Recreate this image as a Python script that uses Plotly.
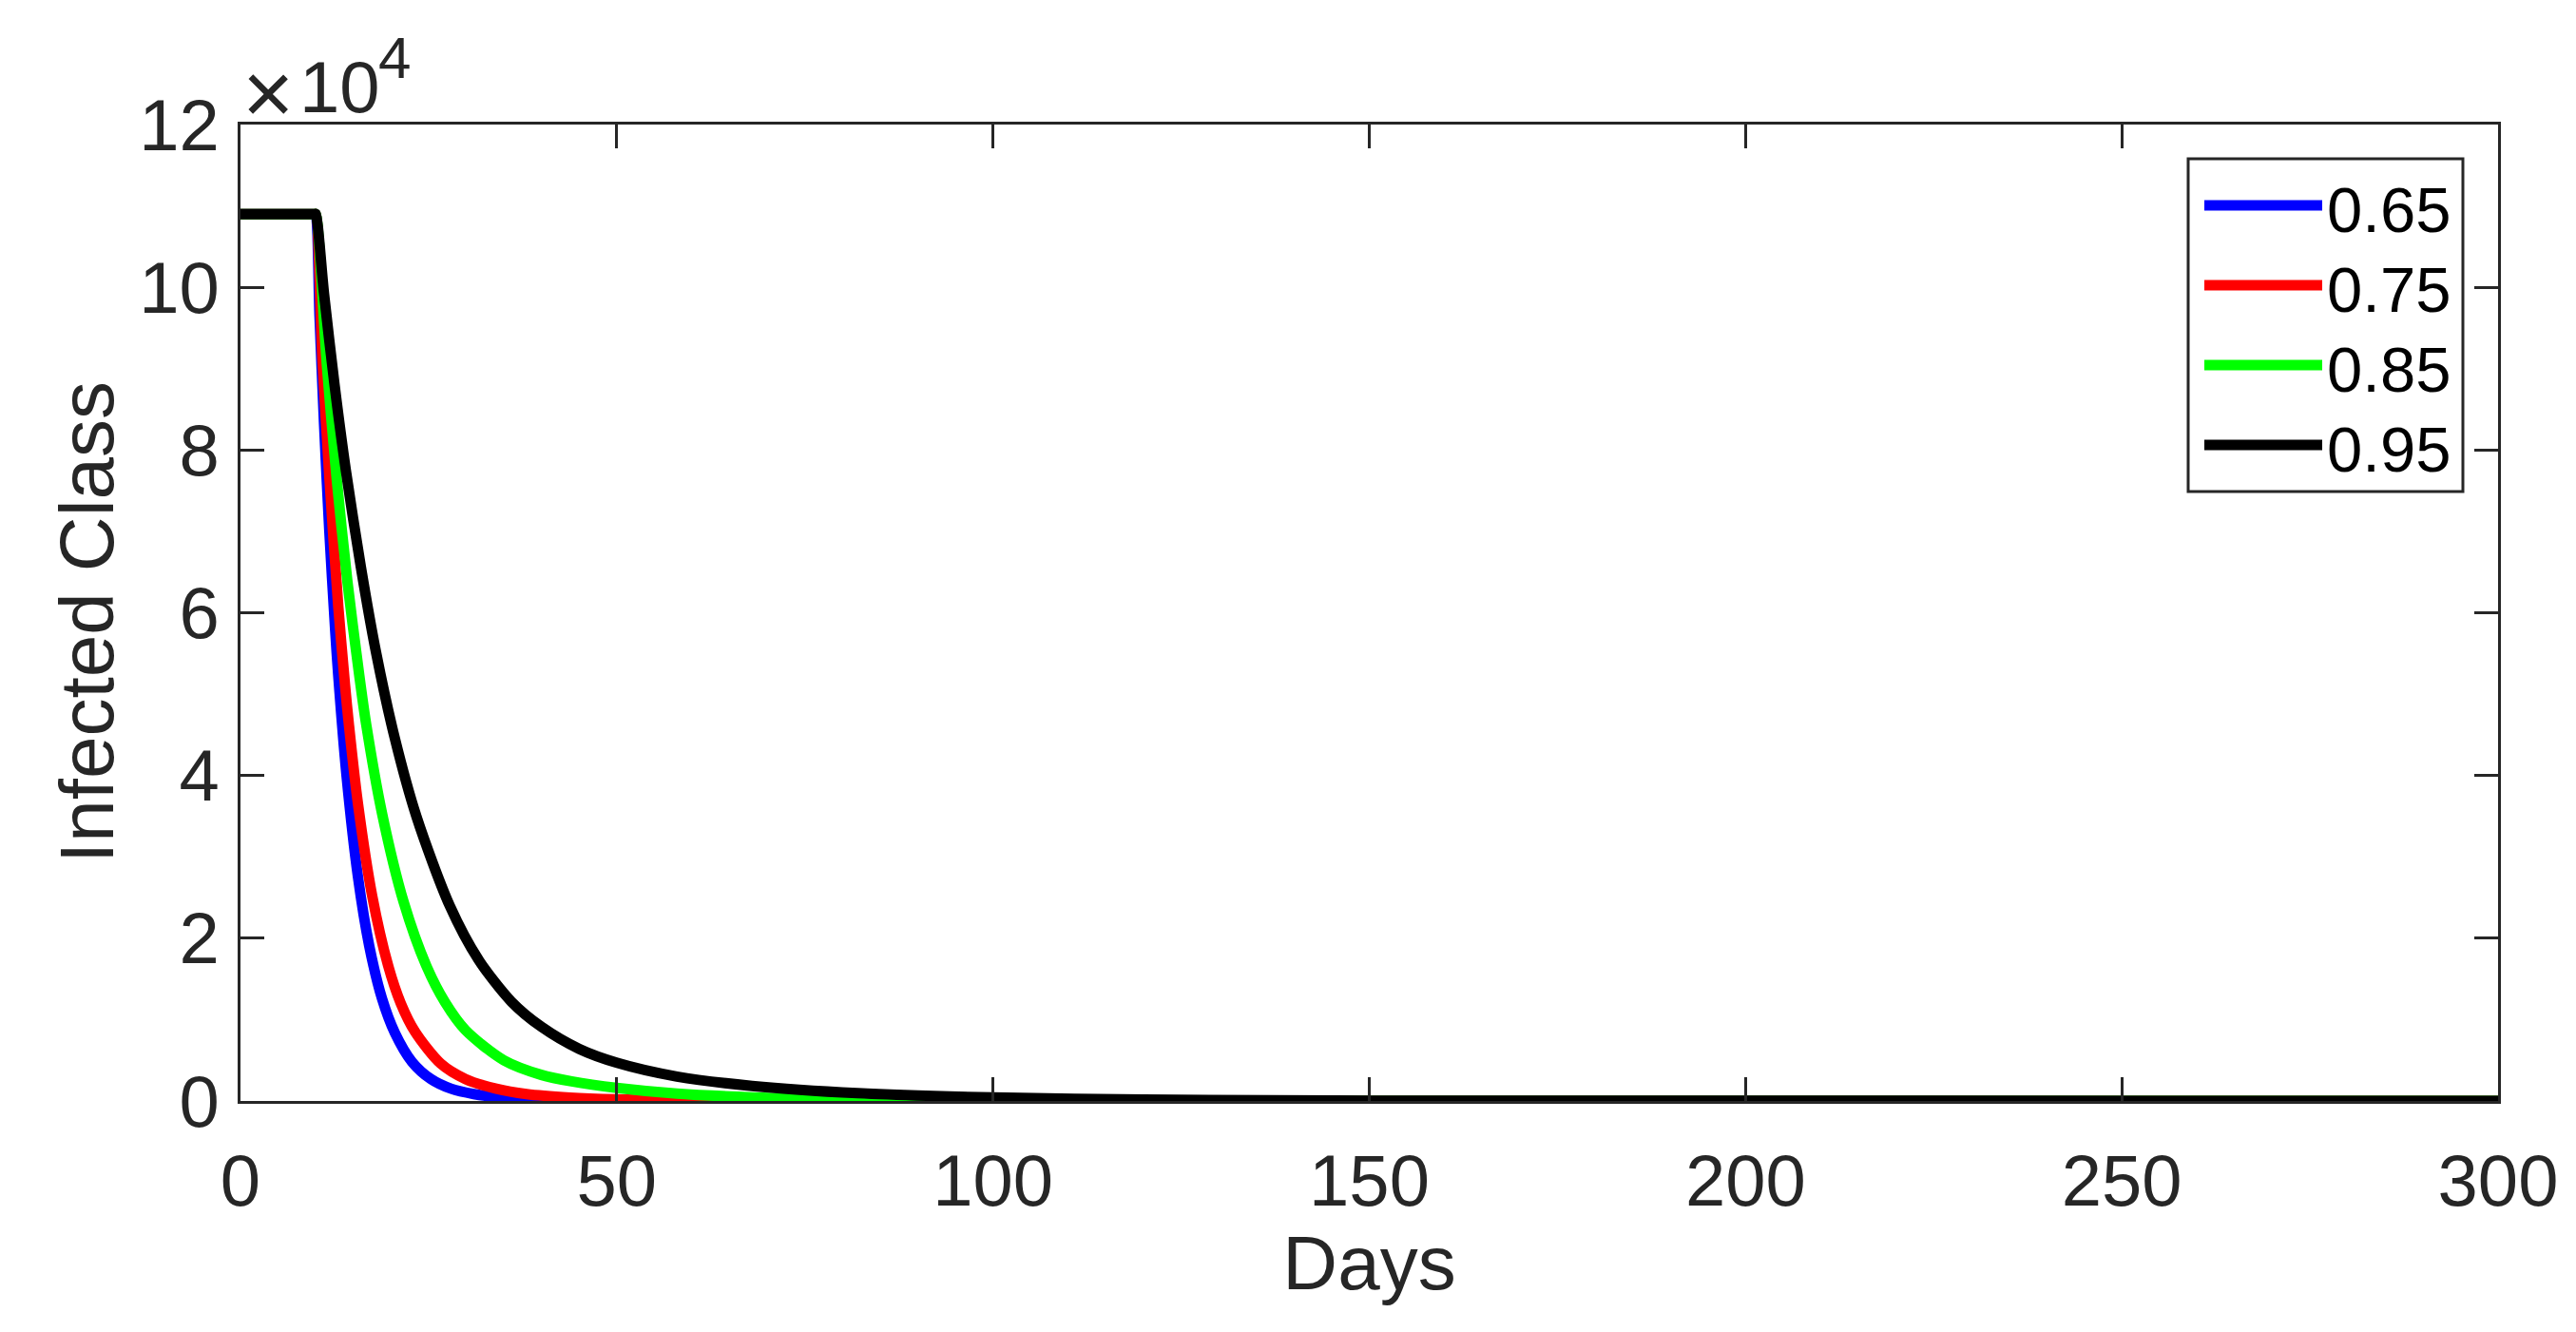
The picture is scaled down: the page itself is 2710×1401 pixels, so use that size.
import plotly.graph_objects as go

# values (days, infected class)
labels = ["0.65", "0.75", "0.85", "0.95"]
colors = ["#0000ff", "#ff0000", "#00ff00", "#000000"]

days_065 = [0, 9.9, 10, 10.5, 11.1, 11.8, 12.6, 13.0, 14.1, 15.6, 17.1, 18.8, 20.5, 22.8, 25.3, 28, 31, 35, 40, 45, 50, 60, 300]
inf_065 = [109000, 109000, 109000, 96500, 83300, 70100, 57600, 52200, 39900, 27600, 19100, 12600, 8400, 4800, 2700, 1500, 850, 400, 150, 60, 20, 0, 0]

days_075 = [0, 9.9, 10, 10.9, 11.8, 13.0, 13.9, 14.4, 15.6, 17.5, 19.6, 21.3, 23.2, 26.6, 29.9, 34, 38, 43.8, 50, 58, 70, 90, 300]
inf_075 = [109000, 109000, 109000, 91000, 76800, 60700, 51000, 46300, 36600, 25200, 16700, 12000, 8500, 4600, 2700, 1500, 850, 420, 200, 80, 20, 0, 0]

days_085 = [0, 9.9, 10, 11.5, 12.8, 14.2, 15.8, 16.7, 18.8, 21.7, 24.7, 27.2, 29.9, 35.0, 40, 44, 50, 58, 68, 82, 100, 115, 300]
inf_085 = [109000, 109000, 109000, 90200, 76300, 63900, 52200, 46300, 35400, 24400, 16600, 12100, 8700, 5000, 3200, 2400, 1600, 900, 450, 160, 40, 0, 0]

days_095 = [0, 9.9, 10, 11.1, 12.5, 14.0, 16.0, 18.0, 20.5, 23.4, 27.8, 31.6, 36, 40, 45, 50, 58, 68, 82, 100, 120, 150, 300]
inf_095 = [109000, 109000, 109000, 99200, 88000, 77500, 65600, 55200, 44600, 34900, 24000, 17400, 12200, 9100, 6400, 4700, 3000, 1850, 960, 430, 170, 40, 0]

x_ticks = [0, 50, 100, 150, 200, 250, 300]
y_ticks = [0, 20000, 40000, 60000, 80000, 100000, 120000]
y_ticktext = ["0", "2", "4", "6", "8", "10", "12"]

series_days = [days_065, days_075, days_085, days_095]
series_inf = [inf_065, inf_075, inf_085, inf_095]

fig = go.Figure()
for i in range(len(labels)):
    fig.add_trace(go.Scatter(x=series_days[i], y=series_inf[i], mode="lines", name=labels[i],
                             line=dict(color=colors[i], width=11, shape="spline", smoothing=0.8),
                             showlegend=False))

axis_col = "#262626"
fam = "Liberation Sans, Arial, sans-serif"
tick_font = dict(family=fam, size=76, color=axis_col)
title_font = dict(family=fam, size=80, color=axis_col)

# the page body adds an 8px offset, so the figure is a bit smaller than the window
fig.update_layout(
    width=2700, height=1390,
    margin=dict(l=245, r=80, t=123, b=240),
    paper_bgcolor="white", plot_bgcolor="white",
    xaxis=dict(range=[0, 300], tickvals=x_ticks, ticks="inside", ticklen=25, tickwidth=3,
               tickcolor=axis_col, showline=True, linewidth=3, linecolor=axis_col,
               mirror="ticks", showgrid=False, zeroline=False, tickfont=tick_font,
               ticklabelstandoff=16,
               title=dict(text="Days", font=title_font, standoff=12)),
    yaxis=dict(range=[0, 120000], tickvals=y_ticks, ticktext=y_ticktext, ticks="inside",
               ticklen=25, tickwidth=3, tickcolor=axis_col, showline=True, linewidth=3,
               linecolor=axis_col, mirror="ticks", showgrid=False, zeroline=False,
               tickfont=tick_font, ticklabelstandoff=4),
)

# pixel positions inside the page -> paper coordinates of the plot area
x0, x1, y0, y1 = 253, 2628, 131, 1158
def px(x):
    return (x - x0) / (x1 - x0)
def py(y):
    return (y1 - y) / (y1 - y0)

# y axis title
fig.add_annotation(text="Infected Class", xref="paper", yref="paper", x=px(91), y=py(655),
                   textangle=-90, xanchor="center", yanchor="middle", showarrow=False, font=title_font)

# exponent label above the y axis
fig.add_annotation(text="×", xref="paper", yref="paper", x=px(282), y=py(98), xanchor="center",
                   yanchor="middle", showarrow=False, font=dict(family=fam, size=93, color=axis_col))
fig.add_annotation(text="10", xref="paper", yref="paper", x=px(357), y=py(91.5), xanchor="center",
                   yanchor="middle", showarrow=False, font=tick_font)
fig.add_annotation(text="4", xref="paper", yref="paper", x=px(415), y=py(60.5), xanchor="center",
                   yanchor="middle", showarrow=False, font=dict(family=fam, size=62, color=axis_col))

# legend box in the top right corner
fig.add_shape(type="rect", xref="paper", yref="paper", x0=px(2302), x1=px(2591), y0=py(517), y1=py(167),
              line=dict(color=axis_col, width=3), fillcolor="white", layer="above")
for i in range(len(labels)):
    yrow = 216 + 84 * i
    fig.add_shape(type="line", xref="paper", yref="paper", x0=px(2319), x1=px(2443), y0=py(yrow), y1=py(yrow),
                  line=dict(color=colors[i], width=11), layer="above")
    fig.add_annotation(text=labels[i], xref="paper", yref="paper", x=px(2446), y=py(yrow + 4),
                       xanchor="left", yanchor="middle", showarrow=False,
                       font=dict(family=fam, size=67, color="black"))

fig.write_html("out.html")
